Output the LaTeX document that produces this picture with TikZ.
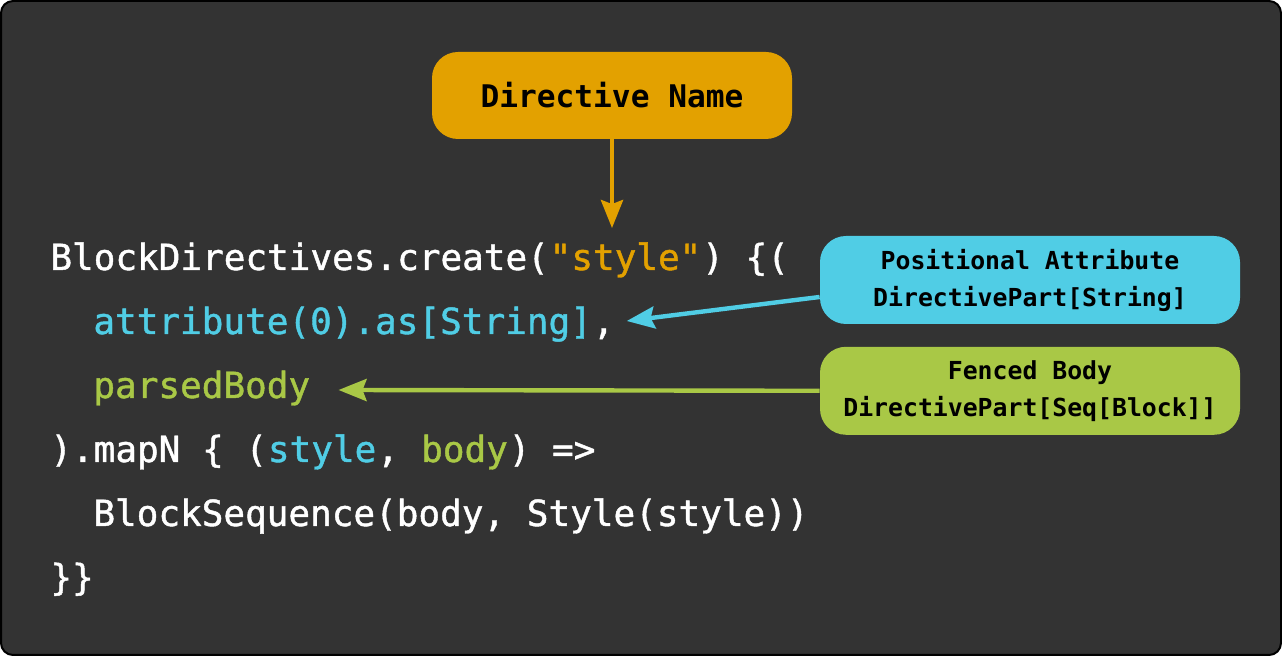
\documentclass[tikz,border=0pt]{standalone}
\usepackage{fontspec}
\setmonofont{DejaVu Sans Mono}
\usepackage{xcolor}
\usetikzlibrary{arrows.meta,positioning,backgrounds}
\definecolor{codebg}{HTML}{333333}
\definecolor{dirorange}{HTML}{E3A100}
\definecolor{attrblue}{HTML}{50CDE5}
\definecolor{bodygreen}{HTML}{A9C846}
\tikzset{
  code/.style={anchor=base west, inner sep=0pt, text=white, font=\ttfamily\fontsize{18}{18}\selectfont\addfontfeature{FakeBold=1.2}}, % code fragments
  callout/.style={rounded corners=13pt, minimum width=210pt, minimum height=44pt, align=center, text=black, font=\ttfamily\bfseries\fontsize{12.4}{18.5}\selectfont},
  pointer/.style={-{Stealth[length=14pt,width=11pt,inset=2pt]}, line width=2.2pt}
}
\begin{document}
\begin{tikzpicture}[x=0.5pt,y=-0.5pt]
    \useasboundingbox (0,0) rectangle (1282,656);

    % Code lines
    \node[code] (l1a) at (50,270) {BlockDirectives.create(};
    \node[code, text=dirorange] (str) at (l1a.base east) {"style"};
    \node[code] (l1b) at (str.base east) {) \{(};
    \node[code, text=attrblue] (l2a) at (93,334) {attribute(0).as[String]};
    \node[code] (l2b) at (l2a.base east) {,};
    \node[code, text=bodygreen] (l3a) at (93,398) {parsedBody};
    \node[code] (l4a) at (50,462) {).mapN \{ (};
    \node[code, text=attrblue] (l4b) at (l4a.base east) {style};
    \node[code] (l4c) at (l4b.base east) {,};
    \node[code, text=bodygreen] (l4d) at ([xshift=10.8pt]l4c.base east) {body};
    \node[code] (l4e) at (l4d.base east) {) =>};
    \node[code] (l5) at (93,526) {BlockSequence(body, Style(style))};
    \node[code] (l6) at (50,590) {\}\}};

    % Callouts
    \node[callout, fill=dirorange, minimum width=180pt, minimum height=43.5pt, font=\ttfamily\bfseries\fontsize{15.6}{18}\selectfont] (dname) at (612,95.5) {Directive Name};
    \node[callout, fill=attrblue] (attr) at (1030,280) {Positional Attribute\\DirectivePart[String]};
    \node[callout, fill=bodygreen] (body) [below=11pt of attr] {Fenced Body\\DirectivePart[Seq[Block]]};

    % Pointers
    \draw[pointer, dirorange, shorten >=7pt] (dname.south) -- (dname.south |- str.north);
    \draw[pointer, attrblue] ([yshift=-8.5pt]attr.west) -- ([xshift=6pt,yshift=6.5pt]l2b.base east);
    \draw[pointer, bodygreen] (body.west) -- ([xshift=14pt,yshift=4pt]l3a.base east);

    % Frame
    \begin{scope}[on background layer]
        \filldraw[fill=codebg, draw=black, line width=1pt, rounded corners=6pt] (1,1) rectangle (1281,655);
    \end{scope}
\end{tikzpicture}
\end{document}
